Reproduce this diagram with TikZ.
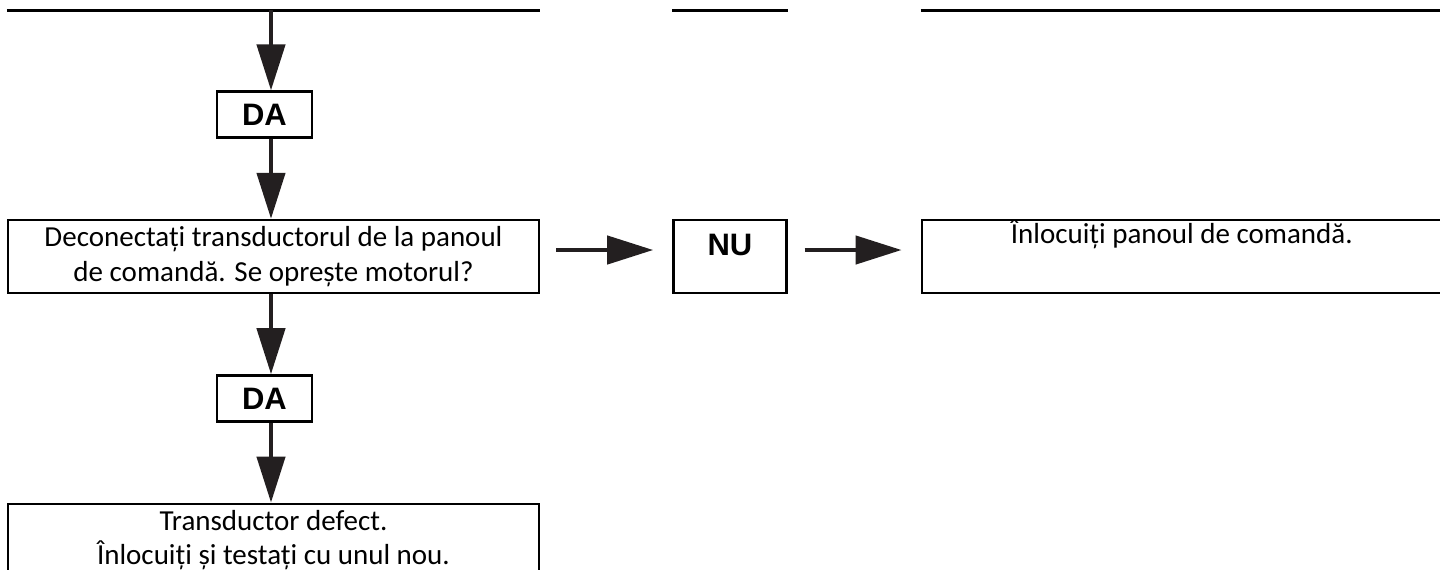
\documentclass[tikz,border=0pt]{standalone}
\usepackage{fontspec}
\setmainfont{Carlito}
\newfontfamily\answerfont{Liberation Sans}
\usepackage{tikz}
\usetikzlibrary{arrows.meta, positioning}
\definecolor{arrowgray}{RGB}{35, 31, 32}
\tikzset{
  flowbox/.style={draw, line width=1.2pt, inner sep=1pt, minimum height=36.5pt, font=\fontsize{14.5}{17.2}\selectfont},
  stepbox/.style={flowbox, minimum width=265.5pt, align=center},
  replbox/.style={flowbox, minimum width=260pt, text height=8pt, text depth=21.5pt},
  nubox/.style={flowbox, minimum width=56.5pt, font=\answerfont\bfseries\fontsize{15.5}{18}\selectfont, text height=11pt, text depth=12.5pt},
  dabox/.style={flowbox, minimum width=47.5pt, minimum height=23pt, font=\answerfont\bfseries\fontsize{15.5}{18}\selectfont, text height=11pt, text depth=0pt},
  flowarrow/.style={-{Triangle[length=23pt, width=14pt]}, line width=2.2pt, arrowgray},
  ruleline/.style={line width=1.2pt},
}
\begin{document}
\begin{tikzpicture}[node distance=40pt]
  \useasboundingbox (0,0) rectangle (720pt,-284.5pt);
  \clip (0,0) rectangle (720pt,-284.5pt);
  \node[stepbox] (main) at (136.75pt,-128.25pt) {Deconectați transductorul de la panoul\\de comandă. Se oprește motorul?};
  \node[dabox, above=of main, xshift=-4.5pt] (da1) {DA};
  \node[dabox, below=of main, xshift=-4.5pt] (da2) {DA};
  \node[stepbox, below=of da2, xshift=4.5pt] (result) {Transductor defect.\\Înlocuiți și testați cu unul nou.};
  \node[nubox, right=66pt of main] (nu) {NU};
  \node[replbox, right=66.5pt of nu] (repl) {Înlocuiți panoul de comandă.};
  % lines left of the previous row
  \coordinate[above=40pt of da1] (rule);
  \foreach \n in {main, nu, repl}
    \draw[ruleline] (\n.west |- rule) -- (\n.east |- rule);
  % vertical connectors
  \draw[flowarrow] ([xshift=-1.25pt]main.north |- rule) -- ([xshift=3.25pt]da1.north);
  \draw[flowarrow] ([xshift=-1.25pt]main.south) -- ([xshift=3.25pt]da2.north);
  \foreach \a/\b in {da1/main, da2/result}
    \draw[flowarrow] ([xshift=3.25pt]\a.south) -- ([xshift=-1.25pt]\b.north);
  % horizontal connectors
  \draw[flowarrow, shorten <=8pt, shorten >=9.5pt] ([yshift=3.25pt]main.east) -- ([yshift=3.25pt]nu.west);
  \draw[flowarrow, shorten <=8.5pt, shorten >=9.5pt] ([yshift=3.25pt]nu.east) -- ([yshift=3.25pt]repl.west);
\end{tikzpicture}
\end{document}
